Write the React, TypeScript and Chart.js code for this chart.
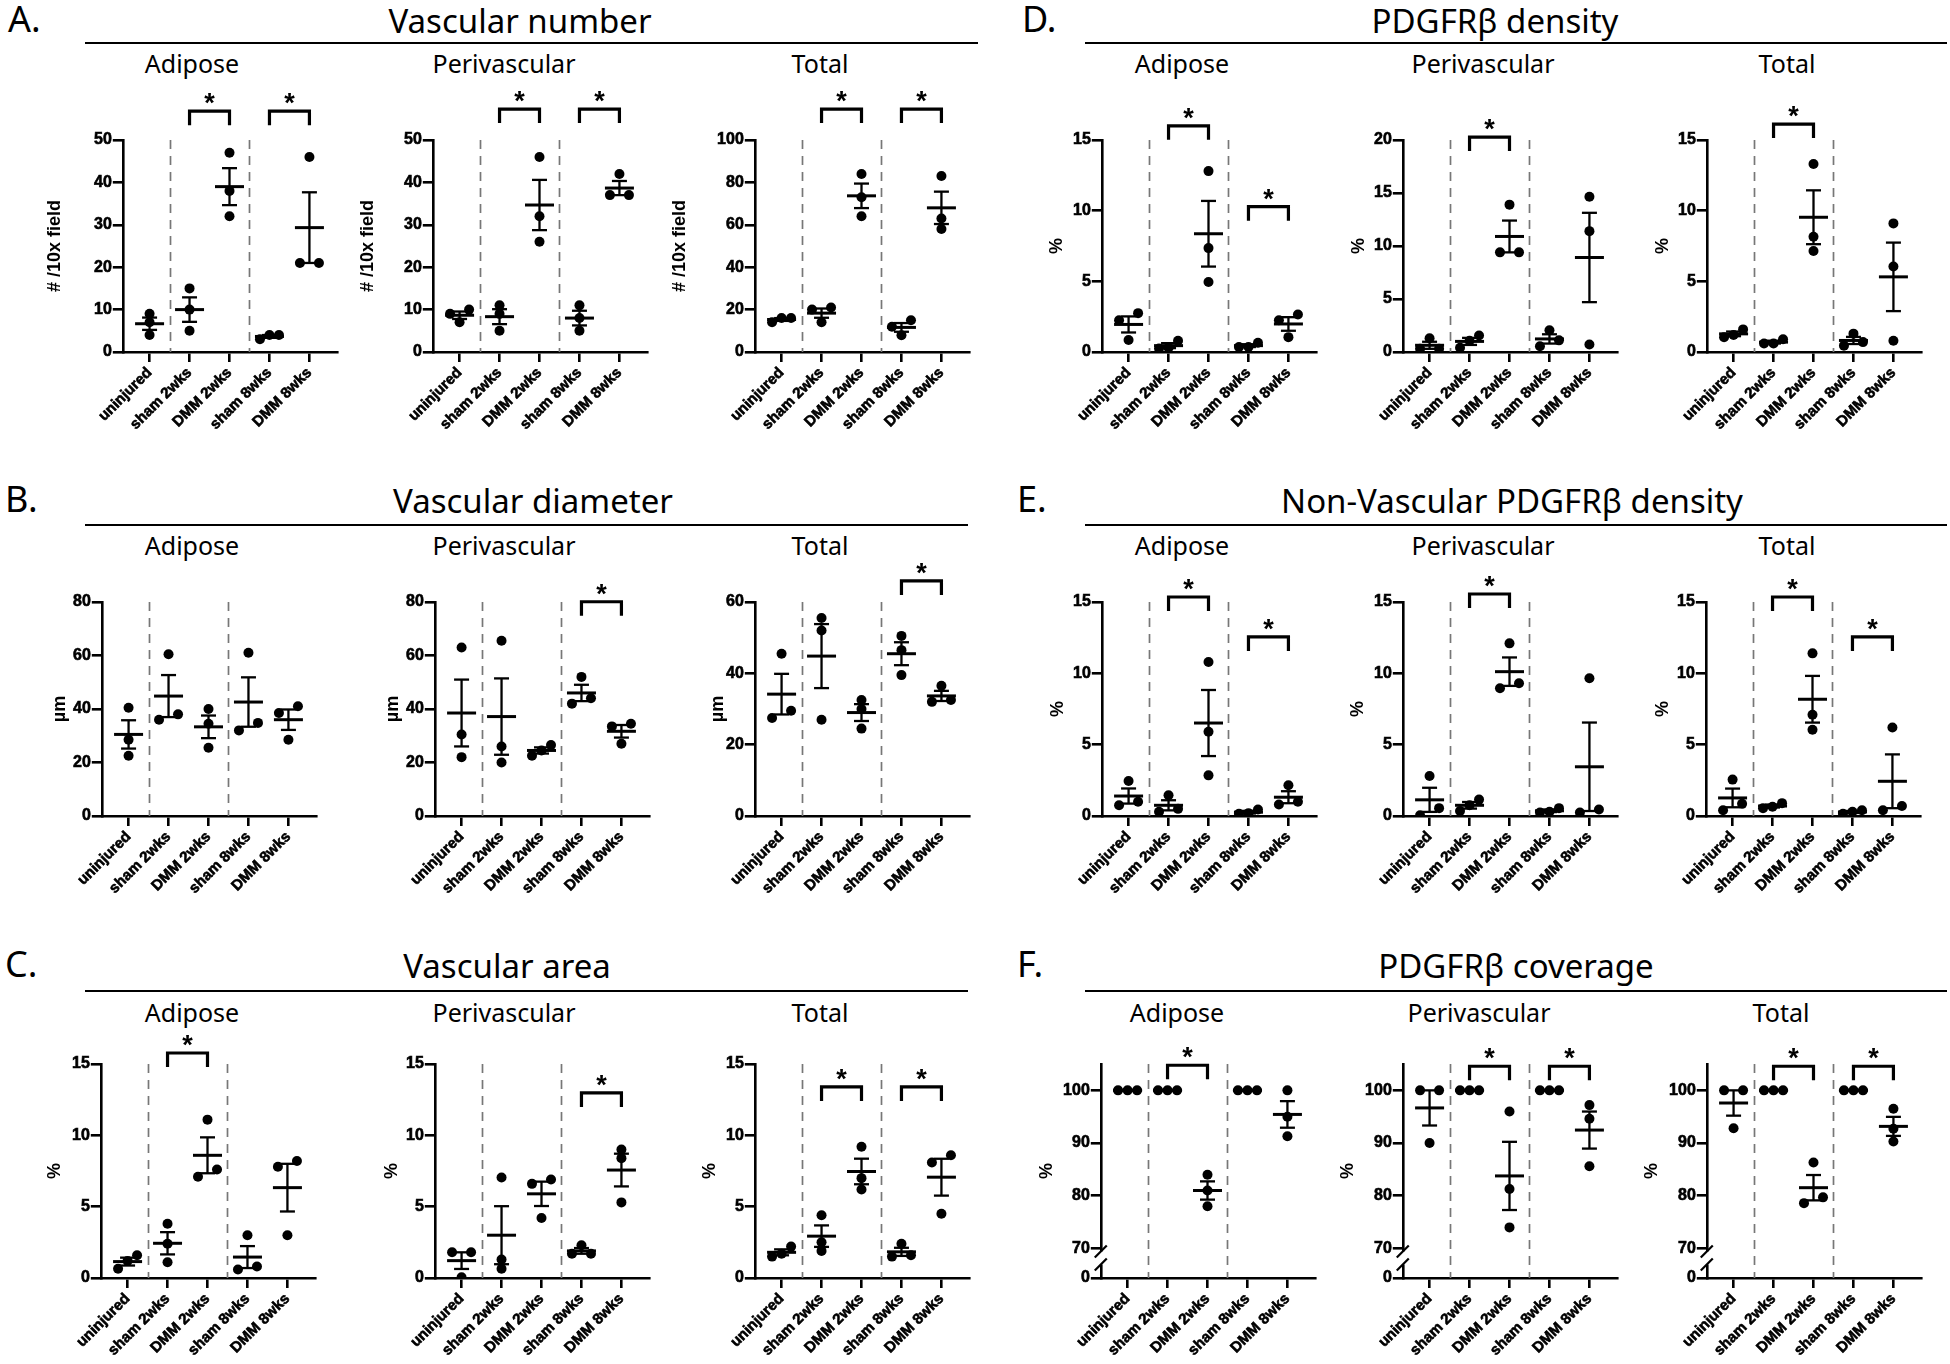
import React, { useEffect, useRef } from 'react';
import { Chart, registerables } from 'chart.js';

Chart.register(...registerables);

// ---------------- data ----------------
const CATEGORIES = ['uninjured', 'sham 2wks', 'DMM 2wks', 'sham 8wks', 'DMM 8wks'];
const GROUP_SEPARATORS = [0.5, 2.5];

// A. Vascular number (# /10x field)
const A_ADIPOSE = [[9, 7, 4], [15, 10, 5], [47, 38, 32], [3, 4, 4], [46, 21, 21]];
const A_PERIVASCULAR = [[9, 10, 7], [11, 9, 5], [46, 32, 26], [11, 8, 5], [42, 37, 37]];
const A_TOTAL = [[14, 16, 16], [20, 21, 14], [84, 73, 64], [11.9, 15, 7.9], [83, 63, 58]];
// B. Vascular diameter (µm)
const B_ADIPOSE = [[40.5, 28.5, 22.5], [60.5, 36, 38], [40, 34.5, 25.5], [61, 32, 34.8], [38.5, 41, 28.5]];
const B_PERIVASCULAR = [[63, 30.5, 22], [65.5, 26, 20], [26.5, 22.5, 24.5], [52, 42, 44], [33.5, 34.5, 27]];
const B_TOTAL = [[45.5, 27.5, 29.5], [55.5, 52, 27], [32.5, 30, 24.5], [50.5, 46.5, 39.5], [36.5, 32, 32.5]];
// C. Vascular area (%)
const C_ADIPOSE = [[1.6, 0.65, 1.2], [3.8, 2.4, 1.1], [11.1, 7.1, 7.6], [3, 0.6, 0.8], [7.8, 8.2, 3]];
const C_PERIVASCULAR = [[1.8, 1.8, 0.05], [7.05, 1.3, 0.65], [6.6, 6.9, 4.2], [2.3, 1.7, 1.7], [9, 8.4, 5.3]];
const C_TOTAL = [[2.2, 1.5, 1.7], [4.4, 2.5, 1.9], [9.2, 7, 6.2], [2.4, 1.5, 1.6], [8.1, 8.6, 4.5]];
// D. PDGFRβ density (%)
const D_ADIPOSE = [[2.25, 2.75, 0.85], [0.8, 0.3, 0.25], [12.8, 7.35, 4.95], [0.35, 0.65, 0.35], [2.25, 2.65, 1.05]];
const D_PERIVASCULAR = [[1.3, 0.3, 0.3], [1.55, 0.4, 1.05], [13.9, 9.4, 9.4], [2.05, 0.55, 1.1], [14.65, 11.4, 0.7]];
const D_TOTAL = [[1.05, 1.6, 1.2], [0.6, 0.9, 0.6], [13.3, 8.15, 7.15], [1.3, 0.45, 0.7], [9.1, 6.05, 0.8]];
// E. Non-Vascular PDGFRβ density (%)
const E_ADIPOSE = [[2.45, 0.75, 1.0], [1.45, 0.3, 0.5], [10.8, 5.9, 2.85], [0.15, 0.45, 0.2], [2.15, 0.8, 1.0]];
const E_PERIVASCULAR = [[2.8, 0.05, 0.55], [1.15, 0.35, 0.75], [12.1, 8.95, 9.3], [0.55, 0.25, 0.3], [9.65, 0.25, 0.45]];
const E_TOTAL = [[2.55, 0.4, 0.85], [0.55, 0.9, 0.65], [11.4, 7.1, 6.05], [0.15, 0.4, 0.3], [6.2, 0.4, 0.7]];
// F. PDGFRβ coverage (%)
const F_ADIPOSE = [[100, 100, 100], [100, 100, 100], [84, 81, 78], [100, 100, 100], [100, 95, 91.3]];
const F_PERIVASCULAR = [[100, 100, 90], [100, 100, 100], [96, 81.3, 74], [100, 100, 100], [97.2, 94.6, 85.6]];
const F_TOTAL = [[100, 100, 92.8], [100, 100, 100], [86.3, 78.6, 79.7], [100, 100, 100], [96.5, 92.7, 90.3]];

// significance brackets: [group a, group b, bracket level (axis units)]
const A_ADIPOSE_SIG = [[1, 2, 56.8], [3, 4, 56.8]];
const A_PERIVASCULAR_SIG = [[1, 2, 57.3], [3, 4, 57.3]];
const A_TOTAL_SIG = [[1, 2, 114.6], [3, 4, 114.6]];
const B_ADIPOSE_SIG: number[][] = [];
const B_PERIVASCULAR_SIG = [[3, 4, 80.1]];
const B_TOTAL_SIG = [[3, 4, 65.9]];
const C_ADIPOSE_SIG = [[1, 2, 15.77]];
const C_PERIVASCULAR_SIG = [[3, 4, 12.97]];
const C_TOTAL_SIG = [[1, 2, 13.39], [3, 4, 13.39]];
const D_ADIPOSE_SIG = [[1, 2, 16.0], [3, 4, 10.28]];
const D_PERIVASCULAR_SIG = [[1, 2, 20.28]];
const D_TOTAL_SIG = [[1, 2, 16.13]];
const E_ADIPOSE_SIG = [[1, 2, 15.35], [3, 4, 12.55]];
const E_PERIVASCULAR_SIG = [[1, 2, 15.56]];
const E_TOTAL_SIG = [[1, 2, 15.35], [3, 4, 12.55]];
const F_ADIPOSE_SIG = [[1, 2, 104.76]];
const F_PERIVASCULAR_SIG = [[1, 2, 104.57], [3, 4, 104.57]];
const F_TOTAL_SIG = [[1, 2, 104.57], [3, 4, 104.57]];

// tick labels
const TICKS_0_50 = [0, 10, 20, 30, 40, 50];
const TICKS_0_100 = [0, 20, 40, 60, 80, 100];
const TICKS_0_80 = [0, 20, 40, 60, 80];
const TICKS_0_60 = [0, 20, 40, 60];
const TICKS_0_15 = [0, 5, 10, 15];
const TICKS_0_20 = [0, 5, 10, 15, 20];
const TICKS_COVERAGE = [70, 80, 90, 100];
const COVERAGE_BREAK_LABEL = '0';

// ---------------- layout / style ----------------
const TEXT_FONT = "'Noto Sans', 'DejaVu Sans', sans-serif";
const AXIS_FONT = "'Liberation Sans', Arial, sans-serif";
Chart.defaults.font.family = AXIS_FONT;
Chart.defaults.color = '#000';

const PLOT_W = 214;
const X_MIN = -0.67;
const X_MAX = 4.69;
const CAT_PX = PLOT_W / (X_MAX - X_MIN);
const DOT_STEP_PX = 9.5;
const OVERLAP_PX = 8.2;
const PAD_T = 75;
const PAD_R = 22;
const X_AXIS_H = 100;
const Y_TITLE_SIZE = 18;
const Y_TICK_SIZE = 16;
const X_TICK_SIZE = 15;
const BREAK_BOTTOM = 64.4;
const BREAK_TOP = 105;

type Panel = {
  key: string;
  data: number[][];
  sig: number[][];
  ticks: number[];
  yTitle: string;
  axisX: number;
  top: number;
  bottom: number;
  yTitleX: number;
  broken?: boolean;
};

const ROW_A = { top: 140, bottom: 352 };
const ROW_B = { top: 602, bottom: 816 };
const ROW_C = { top: 1064, bottom: 1278 };

const PANELS: Panel[] = [
  { key: 'aa', data: A_ADIPOSE, sig: A_ADIPOSE_SIG, ticks: TICKS_0_50, yTitle: '# /10x field', axisX: 123, yTitleX: 55, ...ROW_A },
  { key: 'ap', data: A_PERIVASCULAR, sig: A_PERIVASCULAR_SIG, ticks: TICKS_0_50, yTitle: '# /10x field', axisX: 433, yTitleX: 368, ...ROW_A },
  { key: 'at', data: A_TOTAL, sig: A_TOTAL_SIG, ticks: TICKS_0_100, yTitle: '# /10x field', axisX: 755, yTitleX: 680, ...ROW_A },
  { key: 'ba', data: B_ADIPOSE, sig: B_ADIPOSE_SIG, ticks: TICKS_0_80, yTitle: 'µm', axisX: 102, yTitleX: 60, ...ROW_B },
  { key: 'bp', data: B_PERIVASCULAR, sig: B_PERIVASCULAR_SIG, ticks: TICKS_0_80, yTitle: 'µm', axisX: 435, yTitleX: 393, ...ROW_B },
  { key: 'bt', data: B_TOTAL, sig: B_TOTAL_SIG, ticks: TICKS_0_60, yTitle: 'µm', axisX: 755, yTitleX: 718, ...ROW_B },
  { key: 'ca', data: C_ADIPOSE, sig: C_ADIPOSE_SIG, ticks: TICKS_0_15, yTitle: '%', axisX: 101, yTitleX: 55, ...ROW_C },
  { key: 'cp', data: C_PERIVASCULAR, sig: C_PERIVASCULAR_SIG, ticks: TICKS_0_15, yTitle: '%', axisX: 435, yTitleX: 392, ...ROW_C },
  { key: 'ct', data: C_TOTAL, sig: C_TOTAL_SIG, ticks: TICKS_0_15, yTitle: '%', axisX: 755, yTitleX: 710, ...ROW_C },
  { key: 'da', data: D_ADIPOSE, sig: D_ADIPOSE_SIG, ticks: TICKS_0_15, yTitle: '%', axisX: 1102, yTitleX: 1057, ...ROW_A },
  { key: 'dp', data: D_PERIVASCULAR, sig: D_PERIVASCULAR_SIG, ticks: TICKS_0_20, yTitle: '%', axisX: 1403, yTitleX: 1359, ...ROW_A },
  { key: 'dt', data: D_TOTAL, sig: D_TOTAL_SIG, ticks: TICKS_0_15, yTitle: '%', axisX: 1707, yTitleX: 1663, ...ROW_A },
  { key: 'ea', data: E_ADIPOSE, sig: E_ADIPOSE_SIG, ticks: TICKS_0_15, yTitle: '%', axisX: 1102, yTitleX: 1058, ...ROW_B },
  { key: 'ep', data: E_PERIVASCULAR, sig: E_PERIVASCULAR_SIG, ticks: TICKS_0_15, yTitle: '%', axisX: 1403, yTitleX: 1358, ...ROW_B },
  { key: 'et', data: E_TOTAL, sig: E_TOTAL_SIG, ticks: TICKS_0_15, yTitle: '%', axisX: 1706, yTitleX: 1663, ...ROW_B },
  { key: 'fa', data: F_ADIPOSE, sig: F_ADIPOSE_SIG, ticks: TICKS_COVERAGE, yTitle: '%', axisX: 1101, yTitleX: 1047, broken: true, ...ROW_C },
  { key: 'fp', data: F_PERIVASCULAR, sig: F_PERIVASCULAR_SIG, ticks: TICKS_COVERAGE, yTitle: '%', axisX: 1403, yTitleX: 1348, broken: true, ...ROW_C },
  { key: 'ft', data: F_TOTAL, sig: F_TOTAL_SIG, ticks: TICKS_COVERAGE, yTitle: '%', axisX: 1707, yTitleX: 1652, broken: true, ...ROW_C },
];

const LETTERS = [
  { t: 'A.', x: 8, b: 33 }, { t: 'B.', x: 5, b: 513 }, { t: 'C.', x: 5, b: 978 },
  { t: 'D.', x: 1022, b: 33 }, { t: 'E.', x: 1017, b: 513 }, { t: 'F.', x: 1017, b: 978 },
];
const TITLES = [
  { t: 'Vascular number', cx: 520, b: 33 },
  { t: 'Vascular diameter', cx: 533, b: 513 },
  { t: 'Vascular area', cx: 507, b: 978 },
  { t: 'PDGFRβ density', cx: 1495, b: 33 },
  { t: 'Non-Vascular PDGFRβ density', cx: 1512, b: 513 },
  { t: 'PDGFRβ coverage', cx: 1516, b: 978 },
];
const RULES = [
  { x1: 85, x2: 978, y: 43 }, { x1: 85, x2: 968, y: 525 }, { x1: 85, x2: 968, y: 991 },
  { x1: 1085, x2: 1947, y: 43 }, { x1: 1085, x2: 1947, y: 525 }, { x1: 1085, x2: 1947, y: 991 },
];
const SUBTITLES = [
  { t: 'Adipose', cx: 192, b: 73 }, { t: 'Perivascular', cx: 504, b: 73 }, { t: 'Total', cx: 820, b: 73 },
  { t: 'Adipose', cx: 192, b: 555 }, { t: 'Perivascular', cx: 504, b: 555 }, { t: 'Total', cx: 820, b: 555 },
  { t: 'Adipose', cx: 192, b: 1022 }, { t: 'Perivascular', cx: 504, b: 1022 }, { t: 'Total', cx: 820, b: 1022 },
  { t: 'Adipose', cx: 1182, b: 73 }, { t: 'Perivascular', cx: 1483, b: 73 }, { t: 'Total', cx: 1787, b: 73 },
  { t: 'Adipose', cx: 1182, b: 555 }, { t: 'Perivascular', cx: 1483, b: 555 }, { t: 'Total', cx: 1787, b: 555 },
  { t: 'Adipose', cx: 1177, b: 1022 }, { t: 'Perivascular', cx: 1479, b: 1022 }, { t: 'Total', cx: 1781, b: 1022 },
];

// spread overlapping dots of a group side by side (Prism-like scatter dot plot)
function dotSlots(vals: number[], pxPerUnit: number): number[] {
  const order = vals.map((_, i) => i).sort((a, b) => vals[a] - vals[b]);
  const slots = new Array(vals.length).fill(0);
  let cluster: number[] = [order[0]];
  const flush = () => {
    const n = cluster.length;
    const s = n === 1 ? [0] : n === 2 ? [-1, 1] : cluster.map((_, k) => k - (n - 1) / 2);
    cluster.forEach((id, k) => { slots[id] = s[k]; });
  };
  for (let k = 1; k < order.length; k++) {
    if ((vals[order[k]] - vals[order[k - 1]]) * pxPerUnit < OVERLAP_PX) cluster.push(order[k]);
    else { flush(); cluster = [order[k]]; }
  }
  flush();
  return slots;
}

function line(ctx: CanvasRenderingContext2D, x1: number, y1: number, x2: number, y2: number) {
  ctx.beginPath();
  ctx.moveTo(x1, y1);
  ctx.lineTo(x2, y2);
  ctx.stroke();
}

function makeOverlay(p: Panel) {
  return {
    id: 'overlay_' + p.key,
    beforeDatasetsDraw(chart: any) {
      const { ctx, chartArea, scales } = chart;
      ctx.save();
      ctx.strokeStyle = '#777';
      ctx.lineWidth = 1.7;
      ctx.setLineDash([9, 7]);
      GROUP_SEPARATORS.forEach((v) => {
        const px = Math.round(scales.x.getPixelForValue(v)) + 0.5;
        line(ctx, px, chartArea.top, px, chartArea.bottom);
      });
      ctx.restore();
    },
    afterDatasetsDraw(chart: any) {
      const { ctx, scales } = chart;
      const { x, y } = scales;
      ctx.save();
      ctx.strokeStyle = '#000';
      ctx.lineCap = 'butt';
      p.data.forEach((vals, gi) => {
        const n = vals.length;
        const m = vals.reduce((a, b) => a + b, 0) / n;
        const sd = Math.sqrt(vals.reduce((a, b) => a + (b - m) * (b - m), 0) / (n - 1));
        const sem = sd / Math.sqrt(n);
        const px = x.getPixelForValue(gi);
        const pm = y.getPixelForValue(m);
        const pt = y.getPixelForValue(m + sem);
        const pb = y.getPixelForValue(m - sem);
        ctx.lineWidth = 3;
        line(ctx, px - 14.5, pm, px + 14.5, pm);
        ctx.lineWidth = 2.3;
        line(ctx, px, pt, px, pb);
        line(ctx, px - 7.5, pt, px + 7.5, pt);
        line(ctx, px - 7.5, pb, px + 7.5, pb);
      });
      ctx.restore();
    },
    afterDraw(chart: any) {
      const { ctx, scales, chartArea } = chart;
      const { x, y } = scales;
      ctx.save();
      ctx.strokeStyle = '#000';
      ctx.fillStyle = '#000';
      ctx.lineWidth = 3.2;
      ctx.lineJoin = 'miter';
      p.sig.forEach(([a, b, lvl]) => {
        const xa = x.getPixelForValue(a);
        const xb = x.getPixelForValue(b);
        const yt = y.getPixelForValue(lvl);
        ctx.beginPath();
        ctx.moveTo(xa, yt + 14);
        ctx.lineTo(xa, yt);
        ctx.lineTo(xb, yt);
        ctx.lineTo(xb, yt + 14);
        ctx.stroke();
        ctx.font = `bold 27px ${AXIS_FONT}`;
        ctx.textAlign = 'center';
        ctx.textBaseline = 'alphabetic';
        ctx.fillText('*', (xa + xb) / 2, yt + 1);
      });
      if (p.broken) {
        const ax = chartArea.left;
        const y70 = y.getPixelForValue(TICKS_COVERAGE[0]);
        const yb0 = y70 + 3;
        const yb1 = y70 + 16;
        ctx.fillStyle = '#fff';
        ctx.fillRect(ax - 2.5, yb0, 5, yb1 - yb0);
        ctx.lineWidth = 2.2;
        [yb0, yb1].forEach((yy) => line(ctx, ax - 6, yy + 6, ax + 6, yy - 6));
      }
      ctx.restore();
    },
  };
}

function PanelChart({ p }: { p: Panel }) {
  const ref = useRef<HTMLCanvasElement>(null);
  const yAxisW = p.axisX - p.yTitleX + (Y_TITLE_SIZE * 1.2) / 2;
  const plotH = p.bottom - p.top;
  const width = Math.round(yAxisW + PLOT_W + PAD_R);
  const height = PAD_T + plotH + X_AXIS_H;
  const left = p.axisX - yAxisW;

  useEffect(() => {
    const yMin = p.broken ? BREAK_BOTTOM : p.ticks[0];
    const yMax = p.broken ? BREAK_TOP : p.ticks[p.ticks.length - 1];
    const tickValues = p.broken ? [BREAK_BOTTOM, ...p.ticks] : p.ticks;
    const tickLabels = p.broken ? [COVERAGE_BREAK_LABEL, ...p.ticks.map(String)] : p.ticks.map(String);
    const pxPerUnit = plotH / (yMax - yMin);
    const points: { x: number; y: number }[] = [];
    p.data.forEach((vals, gi) => {
      const slots = dotSlots(vals, pxPerUnit);
      vals.forEach((v, k) => points.push({ x: gi + (slots[k] * DOT_STEP_PX) / CAT_PX, y: v }));
    });
    const chart = new Chart(ref.current as HTMLCanvasElement, {
      type: 'scatter',
      data: {
        datasets: [{
          data: points,
          pointRadius: 5,
          pointHoverRadius: 5,
          backgroundColor: '#000',
          borderColor: '#000',
          borderWidth: 0,
        }],
      },
      options: {
        responsive: false,
        animation: false,
        devicePixelRatio: 1,
        events: [],
        layout: { padding: { top: PAD_T, right: PAD_R, left: 0, bottom: 0 } },
        plugins: { legend: { display: false }, tooltip: { enabled: false } },
        scales: {
          x: {
            type: 'linear',
            min: X_MIN,
            max: X_MAX,
            afterBuildTicks: (ax: any) => { ax.ticks = CATEGORIES.map((_, i) => ({ value: i })); },
            afterFit: (ax: any) => { ax.height = X_AXIS_H; },
            ticks: {
              callback: (v: any) => CATEGORIES[v] ?? '',
              minRotation: 45,
              maxRotation: 45,
              autoSkip: false,
              font: { family: AXIS_FONT, size: X_TICK_SIZE, weight: 'bold' },
              color: '#000',
              textStrokeColor: '#000',
              textStrokeWidth: 0.6,
              padding: 2,
            },
            grid: { drawOnChartArea: false, drawTicks: true, tickLength: 10, color: '#000', lineWidth: 2.6 },
            border: { display: true, color: '#000', width: 2.6 },
          },
          y: {
            type: 'linear',
            min: yMin,
            max: yMax,
            afterBuildTicks: (ax: any) => { ax.ticks = tickValues.map((v) => ({ value: v })); },
            afterFit: (ax: any) => { ax.width = yAxisW; },
            ticks: {
              callback: (_v: any, i: number) => tickLabels[i],
              autoSkip: false,
              font: { family: AXIS_FONT, size: Y_TICK_SIZE, weight: 'bold' },
              color: '#000',
              textStrokeColor: '#000',
              textStrokeWidth: 0.6,
              padding: 1,
            },
            grid: { drawOnChartArea: false, drawTicks: true, tickLength: 10, color: '#000', lineWidth: 2.6 },
            border: { display: true, color: '#000', width: 2.6 },
            title: {
              display: true,
              text: p.yTitle,
              color: '#000',
              padding: 0,
              font: { family: AXIS_FONT, size: Y_TITLE_SIZE, weight: 'bold' },
            },
          },
        },
      },
      plugins: [makeOverlay(p)],
    } as any);
    return () => chart.destroy();
  }, []);

  return (
    <canvas
      ref={ref}
      width={width}
      height={height}
      style={{ position: 'absolute', left, top: p.top - PAD_T, width, height }}
    />
  );
}

const ASC = 0.888; // baseline offset (em) for line-height:1 in Noto Sans

function TextAt({ t, x, cx, b, size }: { t: string; x?: number; cx?: number; b: number; size: number }) {
  const common: React.CSSProperties = {
    position: 'absolute',
    top: b - ASC * size,
    fontFamily: TEXT_FONT,
    fontSize: size,
    lineHeight: `${size}px`,
    whiteSpace: 'nowrap',
    color: '#000',
  };
  if (cx !== undefined) {
    return <div style={{ ...common, left: cx - 400, width: 800, textAlign: 'center' }}>{t}</div>;
  }
  return <div style={{ ...common, left: x }}>{t}</div>;
}

export default function App() {
  useEffect(() => {
    document.body.style.margin = '0';
    document.body.style.background = '#fff';
  }, []);
  return (
    <div style={{ position: 'absolute', left: 0, top: 0, width: 1950, height: 1364, background: '#fff', overflow: 'hidden' }}>
      {LETTERS.map((l) => <TextAt key={l.t} t={l.t} x={l.x} b={l.b} size={36} />)}
      {TITLES.map((l) => <TextAt key={l.t} t={l.t} cx={l.cx} b={l.b} size={33} />)}
      {SUBTITLES.map((l, i) => <TextAt key={i} t={l.t} cx={l.cx} b={l.b} size={25} />)}
      {RULES.map((r, i) => (
        <div key={i} style={{ position: 'absolute', left: r.x1, top: r.y - 1, width: r.x2 - r.x1, height: 2, background: '#000' }} />
      ))}
      {PANELS.map((p) => <PanelChart key={p.key} p={p} />)}
    </div>
  );
}
